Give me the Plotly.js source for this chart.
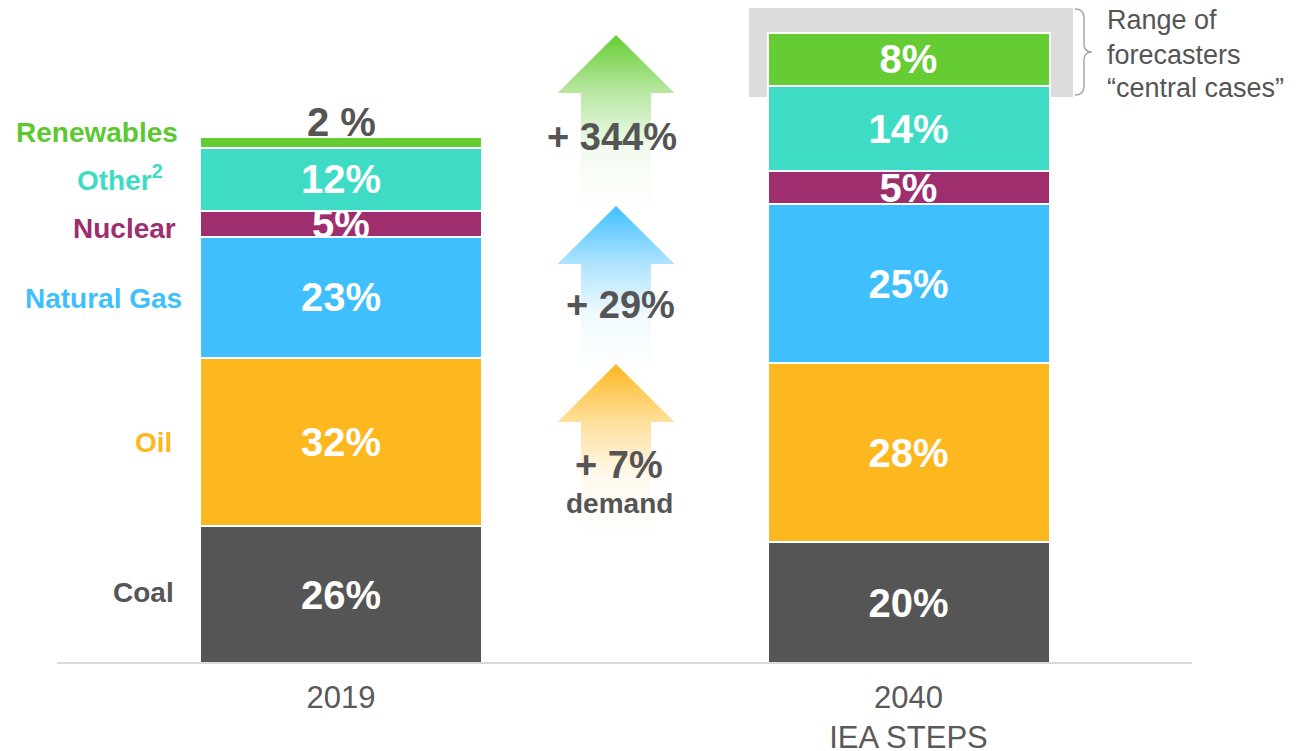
<!DOCTYPE html>
<html>
<head>
<meta charset="utf-8">
<script src="https://cdn.plot.ly/plotly-3.0.1.min.js"></script>
<style>
  html, body { margin: 0; padding: 0; background: #ffffff; }
  #chart { width: 1306px; height: 751px; }
</style>
</head>
<body>
<div id="chart"></div>
<script>
// ---------------- DATA ----------------
const categories = ['2019', '2040<br>IEA STEPS'];
const fuels = ['Coal', 'Oil', 'Natural Gas', 'Nuclear', 'Other<sup>2</sup>', 'Renewables'];
// relative primary energy (2019 total = 100)
const energy2019 = [26, 32, 23, 5, 12, 2];
const energy2040 = [23.0, 34.0, 30.2, 6.3, 16.2, 10.1];
// share of mix labels (%)
const share2019 = [26, 32, 23, 5, 12, 2];
const share2040 = [20, 28, 25, 5, 14, 8];
// growth arrows (bottom to top)
const growthLabels = ['+ 7%', '+ 29%', '+ 344%'];
const growthSub = ['demand', '', ''];
const rangeNote = ['Range of', 'forecasters', '\u201Ccentral cases\u201D'];

// ---------------- STYLE ----------------
const barColors = ['#555555', '#FDB71F', '#40BFFF', '#9E2E6E', '#3EDCC4', '#66CC33'];
const labelColors = ['#555555', '#FDB71F', '#40BFFF', '#9E2E6E', '#3EDCC4', '#5CC832'];
const labelRightPx = [176, 174, 184, 178, 165, 180];
const labelYShiftPx = [2, 0, -1, -5, 1, 10];
const arrowColors = ['253,183,31', '64,191,255', '102,204,51'];
const FONT = 'Liberation Sans, Arial, sans-serif';
const W = 1306, H = 751, BASE_PX = 663;
const PX_PER_UNIT = 5.26;
const X0_PX = 341, X1_PX = 908.5;
const PX_PER_X = X1_PX - X0_PX;
const yTop = BASE_PX / PX_PER_UNIT;

// pixel helpers for decorations
const px2x = p => (p - X0_PX) / PX_PER_X;
const py2y = p => (BASE_PX - p) / PX_PER_UNIT;
const pxp = p => p / W;
const pyp = p => (BASE_PX - p) / BASE_PX;

const traces = [];
const nF = fuels.length;
fuels.forEach((f, i) => {
  const isTop = i === nF - 1;
  traces.push({
    type: 'bar',
    name: f,
    x: [0, 1],
    y: [energy2019[i], energy2040[i]],
    width: 282 / PX_PER_X,
    marker: { color: barColors[i], line: { color: '#ffffff', width: 2 } },
    text: [share2019[i] + '%', share2040[i] + '%'],
    textposition: isTop ? ['none', 'inside'] : 'inside',
    insidetextanchor: 'middle',
    textangle: 0,
    constraintext: 'none',
    insidetextfont: { family: FONT, size: 40, color: '#ffffff', weight: 'bold' },
    cliponaxis: false,
    hoverinfo: 'skip'
  });
});

// gradient arrows
const arrowGeom = [
  { tip: 364, base: 422, bottom: 537 },
  { tip: 206, base: 264, bottom: 372 },
  { tip: 35, base: 93, bottom: 210 }
];
const arrowCx = 616, headHalf = 58.5, shaftHalf = 35;
arrowGeom.forEach((g, i) => {
  const xs = [arrowCx - shaftHalf, arrowCx - shaftHalf, arrowCx - headHalf, arrowCx, arrowCx + headHalf, arrowCx + shaftHalf, arrowCx + shaftHalf, arrowCx - shaftHalf].map(px2x);
  const ys = [g.bottom, g.base, g.base, g.tip, g.base, g.base, g.bottom, g.bottom].map(py2y);
  const c = arrowColors[i];
  traces.push({
    type: 'scatter', mode: 'lines', x: xs, y: ys,
    line: { width: 0, color: 'rgba(0,0,0,0)' },
    fill: 'toself',
    fillgradient: {
      type: 'vertical',
      colorscale: [[0, 'rgba(' + c + ',0)'], [0.35, 'rgba(' + c + ',0.08)'], [0.67, 'rgba(' + c + ',0.45)'], [1, 'rgba(' + c + ',1)']]
    },
    hoverinfo: 'skip', showlegend: false
  });
});

const annotations = [];
// small 2019 renewables share, drawn above its bar
const total2019 = energy2019.reduce((a, b) => a + b, 0);
annotations.push({
  xref: 'x', yref: 'y', x: 0, y: total2019, xanchor: 'center', yanchor: 'middle', yshift: 15,
  text: share2019[nF - 1] + ' %', showarrow: false,
  font: { family: FONT, size: 40, color: '#555555', weight: 'bold' }
});
// left category labels at segment centres of 2019 bar
let cum = 0;
fuels.forEach((f, i) => {
  const mid = cum + energy2019[i] / 2;
  cum += energy2019[i];
  annotations.push({
    xref: 'paper', yref: 'y', x: pxp(labelRightPx[i]), y: mid,
    xanchor: 'right', yanchor: 'middle', yshift: labelYShiftPx[i],
    text: f, showarrow: false,
    font: { family: FONT, size: 28, color: labelColors[i], weight: 'bold' }
  });
});
// growth labels
const growthPos = [[619, 465], [620, 305], [612, 137]];
growthLabels.forEach((t, i) => {
  annotations.push({
    xref: 'paper', yref: 'paper', x: pxp(growthPos[i][0]), y: pyp(growthPos[i][1]),
    xanchor: 'center', yanchor: 'middle', text: t, showarrow: false,
    font: { family: FONT, size: 38, color: '#555555', weight: 'bold' }
  });
  if (growthSub[i]) {
    annotations.push({
      xref: 'paper', yref: 'paper', x: pxp(growthPos[i][0]), y: pyp(growthPos[i][1] + 38),
      xanchor: 'center', yanchor: 'middle', text: growthSub[i], showarrow: false,
      font: { family: FONT, size: 28, color: '#555555', weight: 'bold' }
    });
  }
});
// range note
const noteY = [20, 55, 88];
rangeNote.forEach((t, i) => {
  annotations.push({
    xref: 'paper', yref: 'paper', x: pxp(1105), y: pyp(noteY[i]),
    xanchor: 'left', yanchor: 'middle', text: t, showarrow: false,
    font: { family: FONT, size: 27, color: '#555555' }
  });
});

// bracket path (px coordinates -> paper)
const bracketPx = [
  ['M', 1075, 9], ['Q', 1084, 9, 1084, 18], ['L', 1084, 44], ['Q', 1084, 52, 1092, 52],
  ['Q', 1084, 52, 1084, 60], ['L', 1084, 86], ['Q', 1084, 95, 1075, 95]
];
const bracketPath = bracketPx.map(seg => {
  let s = seg[0];
  for (let k = 1; k < seg.length; k += 2) s += ' ' + pxp(seg[k]) + ',' + pyp(seg[k + 1]);
  return s;
}).join(' ');

const shapes = [
  { type: 'rect', xref: 'paper', yref: 'paper', x0: pxp(749), x1: pxp(1073), y0: pyp(97), y1: pyp(8),
    fillcolor: '#DCDCDC', line: { width: 0 }, layer: 'below' },
  { type: 'line', xref: 'paper', yref: 'paper', x0: pxp(57), x1: pxp(1192), y0: 0, y1: 0,
    line: { color: '#D9D9D9', width: 2 }, layer: 'above' },
  { type: 'path', xref: 'paper', yref: 'paper', path: bracketPath,
    line: { color: '#A6A6A6', width: 1.5 }, fillcolor: 'rgba(0,0,0,0)' }
];

const layout = {
  width: W, height: H,
  margin: { l: 0, r: 0, t: 0, b: H - BASE_PX },
  paper_bgcolor: '#ffffff', plot_bgcolor: '#ffffff',
  barmode: 'stack',
  showlegend: false,
  font: { family: FONT, color: '#555555' },
  xaxis: {
    type: 'linear',
    range: [px2x(0), px2x(W)],
    tickvals: [0, 1], ticktext: categories,
    tickfont: { family: FONT, size: 31, color: '#595959' },
    ticklabelstandoff: 13,
    showgrid: false, zeroline: false, showline: false, ticks: '',
    fixedrange: true
  },
  yaxis: { range: [0, yTop], visible: false, showgrid: false, zeroline: false, fixedrange: true },
  annotations: annotations,
  shapes: shapes
};

Plotly.newPlot('chart', traces, layout, { displayModeBar: false, staticPlot: true });
</script>
</body>
</html>
